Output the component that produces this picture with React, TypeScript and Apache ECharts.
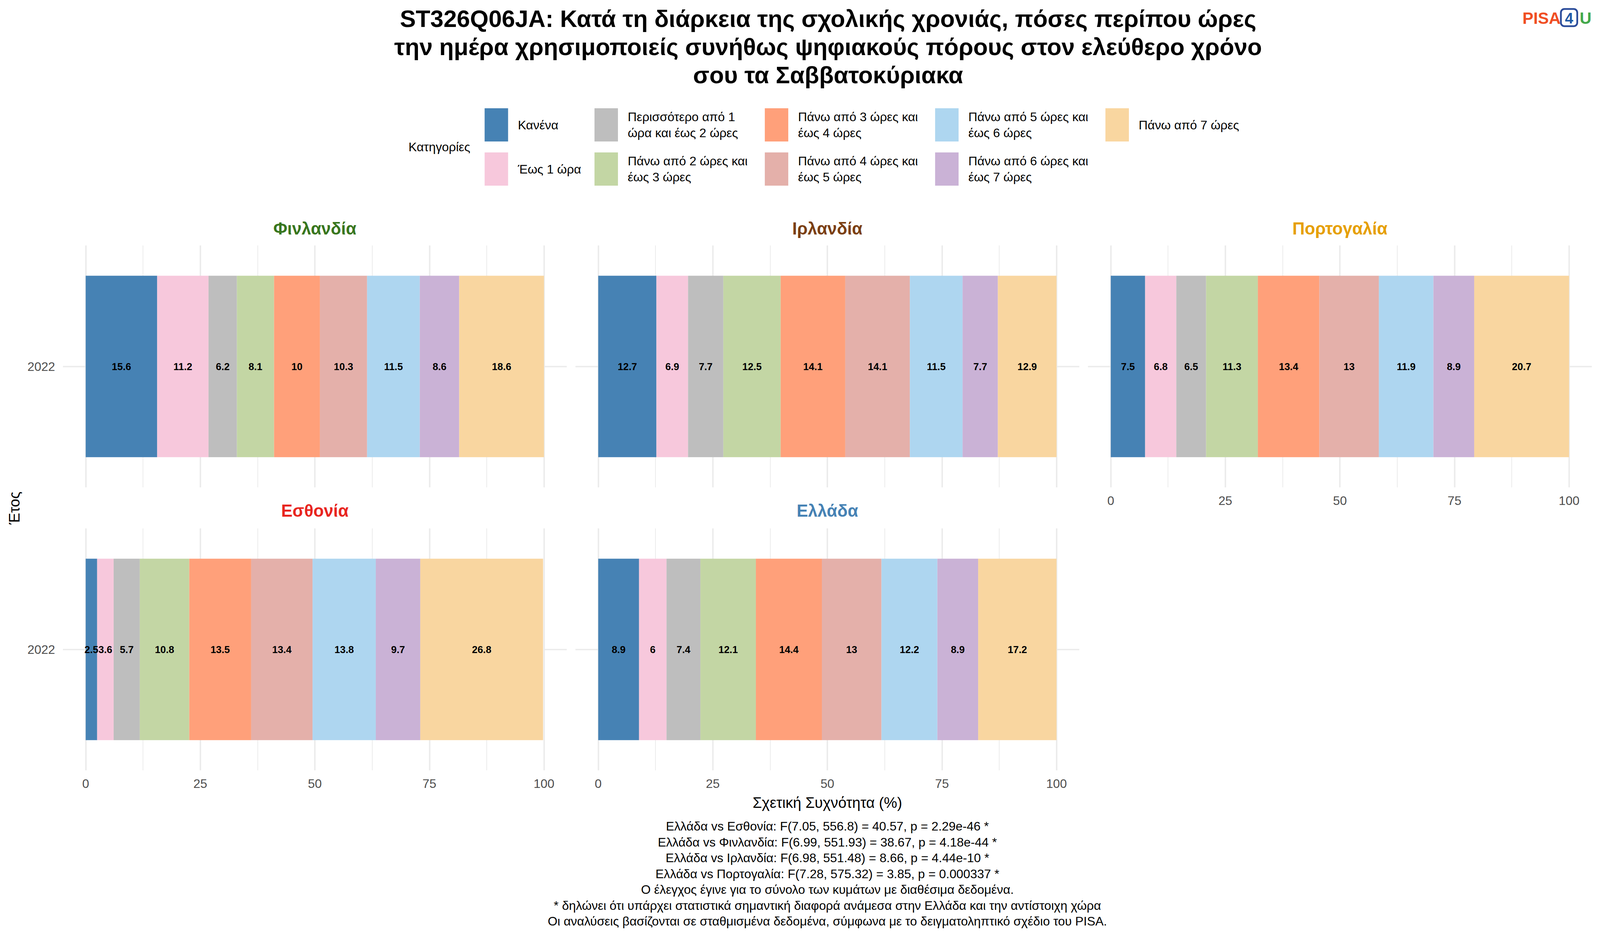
import React, { useEffect, useRef } from 'react';
import * as echarts from 'echarts';

const FONT = "'Liberation Sans', Arial, sans-serif";

const categories = [
  'Κανένα',
  'Έως 1 ώρα',
  'Περισσότερο από 1 ώρα και έως 2 ώρες',
  'Πάνω από 2 ώρες και έως 3 ώρες',
  'Πάνω από 3 ώρες και έως 4 ώρες',
  'Πάνω από 4 ώρες και έως 5 ώρες',
  'Πάνω από 5 ώρες και έως 6 ώρες',
  'Πάνω από 6 ώρες και έως 7 ώρες',
  'Πάνω από 7 ώρες',
];
const categoryColors = ['#4682B4', '#F7C8DC', '#BEBEBE', '#C3D6A4', '#FFA07A', '#E4B0AA', '#AED6F0', '#CAB2D6', '#F9D6A0'];

const years = ['2022'];
const countries = ['Φινλανδία', 'Ιρλανδία', 'Πορτογαλία', 'Εσθονία', 'Ελλάδα'];
const countryColors = ['#38761D', '#7B3F12', '#E69F00', '#E8251F', '#4682B4'];

const finland = [15.6, 11.2, 6.2, 8.1, 10, 10.3, 11.5, 8.6, 18.6];
const ireland = [12.7, 6.9, 7.7, 12.5, 14.1, 14.1, 11.5, 7.7, 12.9];
const portugal = [7.5, 6.8, 6.5, 11.3, 13.4, 13, 11.9, 8.9, 20.7];
const estonia = [2.5, 3.6, 5.7, 10.8, 13.5, 13.4, 13.8, 9.7, 26.8];
const greece = [8.9, 6, 7.4, 12.1, 14.4, 13, 12.2, 8.9, 17.2];
const panelValues = [finland, ireland, portugal, estonia, greece];

const titleText =
  'ST326Q06JA: Κατά τη διάρκεια της σχολικής χρονιάς, πόσες περίπου ώρες\n' +
  'την ημέρα χρησιμοποιείς συνήθως ψηφιακούς πόρους στον ελεύθερο χρόνο\n' +
  'σου τα Σαββατοκύριακα';

const footerLines = [
  'Ελλάδα vs Εσθονία: F(7.05, 556.8) = 40.57, p = 2.29e-46 *',
  'Ελλάδα vs Φινλανδία: F(6.99, 551.93) = 38.67, p = 4.18e-44 *',
  'Ελλάδα vs Ιρλανδία: F(6.98, 551.48) = 8.66, p = 4.44e-10 *',
  'Ελλάδα vs Πορτογαλία: F(7.28, 575.32) = 3.85, p = 0.000337 *',
  'Ο έλεγχος έγινε για το σύνολο των κυμάτων με διαθέσιμα δεδομένα.',
  '* δηλώνει ότι υπάρχει στατιστικά σημαντική διαφορά ανάμεσα στην Ελλάδα και την αντίστοιχη χώρα',
  'Οι αναλύσεις βασίζονται σε σταθμισμένα δεδομένα, σύμφωνα με το δειγματοληπτικό σχέδιο του PISA.',
];

// legend columns (indices into categories)
const legendColumns = [[0, 1], [2, 3], [4, 5], [6, 7], [8]];
const legendX = [1363, 1672, 2151, 2630, 3109];

// layout is designed on a 4500 x 2400 canvas and scaled to the real page size
const BASE_W = 4500;
const BASE_H = 2400;
const PANEL_W = 1289;
const PANEL_H = 619;
const panelLeft = (p: number) => 241 + (p % 3) * 1441.5;
const panelTop = (p: number) => 628 + Math.floor(p / 3) * 724;

const wrap = (s: string, width = 20) => {
  const words = s.split(' ');
  const lines: string[] = [];
  let cur = '';
  words.forEach((w) => {
    const next = cur ? cur + ' ' + w : w;
    if (next.length > width && cur) {
      lines.push(cur);
      cur = w;
    } else {
      cur = next;
    }
  });
  if (cur) lines.push(cur);
  return lines.join('\n');
};

const App: React.FC = () => {
  const chartRef = useRef<HTMLDivElement>(null);

  useEffect(() => {
    document.body.style.margin = '0';
    document.body.style.overflow = 'hidden';
    if (!chartRef.current) return;
    const chart = echarts.init(chartRef.current, undefined, { renderer: 'svg' });

    const W = chart.getWidth();
    const H = chart.getHeight();
    const sx = W / BASE_W;
    const sy = H / BASE_H;
    const fs = Math.min(sx, sy);
    const X = (v: number) => v * sx;
    const Y = (v: number) => v * sy;
    const F = (v: number) => v * fs;

    const grids: any[] = [];
    const xAxes: any[] = [];
    const yAxes: any[] = [];
    const series: any[] = [];

    const tickStyle = { show: true, alignWithLabel: true, length: X(64), lineStyle: { color: '#EBEBEB', width: F(4) } };

    panelValues.forEach((vals, p) => {
      grids.push({ left: X(panelLeft(p)), top: Y(panelTop(p)), width: X(PANEL_W), height: Y(PANEL_H), containLabel: false });
      xAxes.push({
        type: 'value',
        gridIndex: p,
        min: 0,
        max: 100,
        interval: 25,
        axisLine: { show: false },
        axisTick: { show: false },
        axisLabel: { show: p >= 2, fontSize: F(35), color: '#4D4D4D', fontFamily: FONT, margin: Y(18) },
        splitLine: { show: true, lineStyle: { color: '#EBEBEB', width: F(4) } },
        minorTick: { show: false, splitNumber: 2 },
        minorSplitLine: { show: true, lineStyle: { color: '#EBEBEB', width: F(2) } },
      });
      yAxes.push({
        type: 'category',
        gridIndex: p,
        data: years,
        axisLine: { show: false },
        axisTick: tickStyle,
        axisLabel: { show: p % 3 === 0, fontSize: F(35), color: '#4D4D4D', fontFamily: FONT, margin: X(86) },
        splitLine: { show: false },
      });
      yAxes.push({
        type: 'category',
        gridIndex: p,
        position: 'right',
        data: years,
        axisLine: { show: false },
        axisTick: tickStyle,
        axisLabel: { show: false },
        splitLine: { show: false },
      });
      vals.forEach((v, c) => {
        series.push({
          type: 'bar',
          name: categories[c],
          stack: 'panel' + p,
          xAxisIndex: p,
          yAxisIndex: p * 2,
          barWidth: '75%',
          data: [v],
          itemStyle: { color: categoryColors[c] },
          label: {
            show: true,
            position: 'inside',
            fontSize: F(28),
            fontWeight: 'bold',
            color: '#000',
            fontFamily: FONT,
          },
        });
      });
    });

    const legends = legendColumns.map((col, i) => ({
      data: col.map((c) => categories[c]),
      orient: 'vertical',
      left: X(legendX[i]),
      top: Y(277),
      padding: 0,
      itemWidth: X(66),
      itemHeight: Y(85),
      itemGap: Y(28),
      icon: 'rect',
      selectedMode: false,
      formatter: (name: string) => wrap(name),
      textStyle: { fontSize: F(35), lineHeight: Y(41), color: '#000', fontFamily: FONT, padding: [0, 0, 0, X(22)] },
    }));

    const text = (x: number, y: number, t: string, extra: any = {}) => ({
      type: 'text',
      x: X(x),
      y: Y(y),
      silent: true,
      style: {
        text: t,
        fill: '#000',
        fontFamily: FONT,
        fontSize: F(35),
        align: 'center',
        verticalAlign: 'middle',
        ...extra,
      },
    });

    const graphics: any[] = [
      text(2329, 12, titleText, { fontSize: F(67), fontWeight: 'bold', lineHeight: Y(72), verticalAlign: 'top' }),
      text(1149, 376, 'Κατηγορίες', { align: 'left' }),
      text(2327, 2053, 'Σχετική Συχνότητα (%)', { fontSize: F(42) }),
      { ...text(40, 1300, 'Έτος', { fontSize: F(42) }), rotation: Math.PI / 2 },
      text(2327, 2094, footerLines.join('\n'), { lineHeight: Y(40.5), verticalAlign: 'top' }),
      // logo
      text(4282, 46, 'PISA', { align: 'left', fontSize: F(46), fontWeight: 'bold', fill: '#F04E23' }),
      {
        type: 'rect',
        shape: { x: X(4390), y: Y(23), width: X(46), height: Y(44), r: F(10) },
        style: { fill: 'none', stroke: '#2B4C9A', lineWidth: F(5) },
      },
      text(4413, 46, '4', { fontSize: F(42), fontWeight: 'bold', fill: '#1F5AA6' }),
      text(4443, 46, 'U', { align: 'left', fontSize: F(46), fontWeight: 'bold', fill: '#43A84B' }),
    ];
    countries.forEach((name, p) => {
      graphics.push(
        text(panelLeft(p) + PANEL_W / 2, p < 3 ? 584 : 1306, name, {
          fontSize: F(48),
          fontWeight: 'bold',
          fill: countryColors[p],
        })
      );
    });

    const option: any = {
      animation: false,
      backgroundColor: '#FFFFFF',
      textStyle: { fontFamily: FONT },
      grid: grids,
      xAxis: xAxes,
      yAxis: yAxes,
      legend: legends,
      series,
      graphic: graphics,
    };

    chart.setOption(option);

    return () => {
      chart.dispose();
    };
  }, []);

  return <div ref={chartRef} style={{ width: '100vw', height: '100vh' }} />;
};

export default App;
